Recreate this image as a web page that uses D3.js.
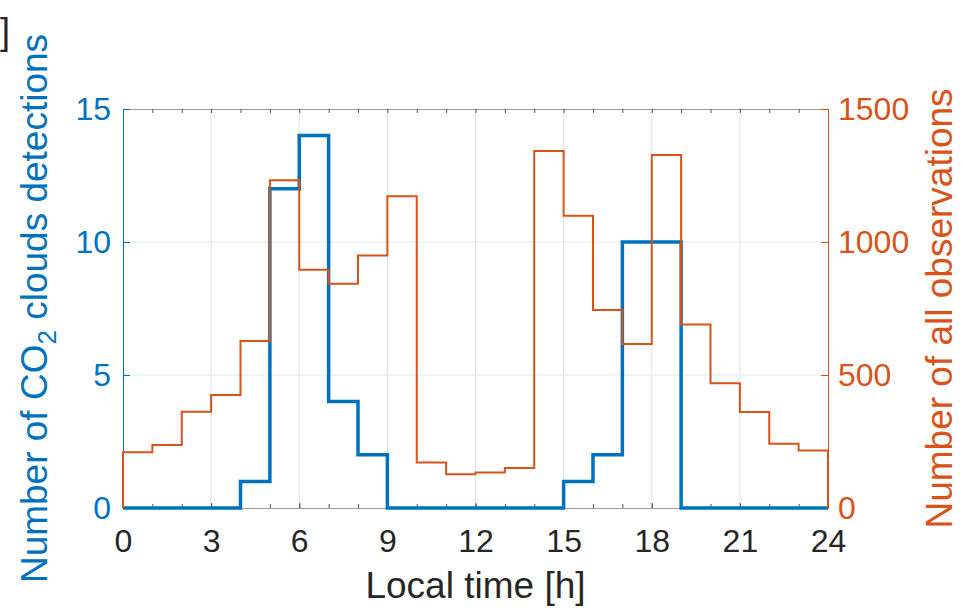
<!DOCTYPE html>
<html>
<head>
<meta charset="utf-8">
<script src="https://cdn.jsdelivr.net/npm/d3@7"></script>
<style>
  body { margin: 0; background: #fff; }
  svg { display: block; font-family: "Liberation Sans", Arial, Helvetica, sans-serif; }
</style>
</head>
<body>
<div id="container"></div>
<script>
// hourly bins, 0..24 h local time
var hours = d3.range(0, 24);
var co2Detections = [0, 0, 0, 0, 1, 12, 14, 4, 2, 0, 0, 0, 0, 0, 0, 1, 2, 10, 10, 0, 0, 0, 0, 0];
var allObservations = [210, 237, 362, 425, 628, 1232, 896, 843, 949, 1172, 171, 127,
                       133, 150, 1342, 1099, 744, 617, 1327, 690, 469, 361, 242, 216];
var xTicks = [0, 3, 6, 9, 12, 15, 18, 21, 24];
var leftTicks = [0, 5, 10, 15];
var rightTicks = [0, 500, 1000, 1500];

var width = 962, height = 608;
var margin = {left: 123, right: 134, top: 109, bottom: 100};
var blue = "#0072BD", orange = "#D95319", dark = "#262626";

var svg = d3.select("div#container")
  .append("svg")
  .attr("width", width)
  .attr("height", height);

var x = d3.scaleLinear().domain([0, 24]).range([margin.left, width - margin.right]);
var yL = d3.scaleLinear().domain([0, 15]).range([height - margin.bottom, margin.top]);
var yR = d3.scaleLinear().domain([0, 1500]).range([height - margin.bottom, margin.top]);

// grid
svg.append("g").selectAll("line")
  .data(xTicks.slice(1, -1))
  .enter().append("line")
  .attr("x1", d => x(d)).attr("x2", d => x(d))
  .attr("y1", yL(0)).attr("y2", yL(15))
  .attr("stroke", "#e3e3e3").attr("stroke-width", 1);

svg.append("g").selectAll("line")
  .data(leftTicks.slice(1, -1))
  .enter().append("line")
  .attr("x1", x(0)).attr("x2", x(24))
  .attr("y1", d => yL(d)).attr("y2", d => yL(d))
  .attr("stroke", "#dcebf6").attr("stroke-width", 1);

// x axes (bottom with labels, minor ticks, top box line)
var xMinor = svg.append("g")
  .attr("transform", "translate(0," + yL(0) + ")")
  .call(d3.axisBottom(x).tickValues(d3.range(0, 25)).tickSize(-4).tickFormat(""));
var xTop = svg.append("g")
  .attr("transform", "translate(0," + yL(15) + ")")
  .call(d3.axisTop(x).tickValues(d3.range(0, 25)).tickSize(-4).tickFormat(""));
var xAxis = svg.append("g")
  .attr("transform", "translate(0," + yL(0) + ")")
  .call(d3.axisBottom(x).tickValues(xTicks).tickSize(-5).tickPadding(21).tickSizeOuter(0));

[xMinor, xTop, xAxis].forEach(function(g) {
  g.select(".domain").attr("stroke", "#9a9a9a");
  g.selectAll(".tick line").attr("stroke", "#555");
});
xAxis.selectAll("text").attr("fill", dark).style("font-size", "32px");

// left axis
var leftAxis = svg.append("g")
  .attr("transform", "translate(" + x(0) + ",0)")
  .call(d3.axisLeft(yL).tickValues(leftTicks).tickSize(-7).tickPadding(12).tickSizeOuter(0));
leftAxis.select(".domain").attr("stroke", blue);
leftAxis.selectAll(".tick line").attr("stroke", blue);
leftAxis.selectAll("text").attr("fill", blue).style("font-size", "32px");

// right axis
var rightAxis = svg.append("g")
  .attr("transform", "translate(" + x(24) + ",0)")
  .call(d3.axisRight(yR).tickValues(rightTicks).tickFormat(d3.format("d"))
    .tickSize(-7).tickPadding(10).tickSizeOuter(0));
rightAxis.select(".domain").attr("stroke", orange);
rightAxis.selectAll(".tick line").attr("stroke", orange);
rightAxis.selectAll("text").attr("fill", orange).style("font-size", "32px");

// histogram outlines
function outline(values, yScale) {
  var pts = [[0, 0]];
  values.forEach(function(v, i) { pts.push([hours[i], v]); });
  pts.push([24, 0]);
  return d3.line()
    .x(d => x(d[0]))
    .y(d => yScale(d[1]))
    .curve(d3.curveStepAfter)(pts);
}

svg.append("path")
  .attr("d", outline(co2Detections, yL))
  .attr("fill", "none")
  .attr("stroke", blue)
  .attr("stroke-width", 3.5);

svg.append("path")
  .attr("d", outline(allObservations, yR))
  .attr("fill", "none")
  .attr("stroke", orange)
  .attr("stroke-width", 2);

// labels
var cy = (yL(0) + yL(15)) / 2;
var leftLabel = svg.append("text")
  .attr("transform", "translate(47," + cy + ") rotate(-90)")
  .attr("text-anchor", "middle")
  .attr("fill", blue)
  .style("font-size", "37px");
leftLabel.append("tspan").text("Number of CO");
leftLabel.append("tspan").attr("dy", 9).style("font-size", "26px").text("2");
leftLabel.append("tspan").attr("dy", -9).text(" clouds detections");

svg.append("text")
  .attr("transform", "translate(952," + cy + ") rotate(-90)")
  .attr("text-anchor", "middle")
  .attr("fill", orange)
  .style("font-size", "37px")
  .text("Number of all observations");

svg.append("text")
  .attr("x", (x(0) + x(24)) / 2)
  .attr("y", 598)
  .attr("text-anchor", "middle")
  .attr("fill", dark)
  .style("font-size", "37px")
  .text("Local time [h]");

// cut-off panel label at the top left
svg.append("text")
  .attr("x", 0)
  .attr("y", 44)
  .attr("fill", dark)
  .style("font-size", "36px")
  .text("]");
</script>
</body>
</html>
